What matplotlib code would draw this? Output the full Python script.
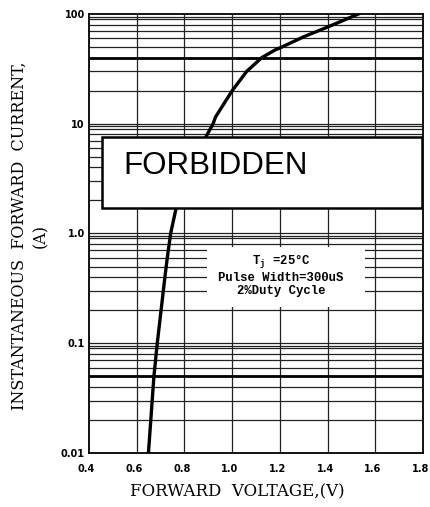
import matplotlib
matplotlib.use('Agg')
import matplotlib.pyplot as plt
import matplotlib.transforms as mtransforms
from matplotlib.patches import Rectangle

# 読み取った値
voltage = [0.649, 0.672, 0.686, 0.702, 0.718, 0.728, 0.742, 0.765, 0.83, 0.89,
           0.92, 0.93, 1.0, 1.061, 1.124, 1.18, 1.2, 1.3, 1.4, 1.543]
current = [0.01, 0.05, 0.1, 0.2, 0.4, 0.6, 1.0, 1.7, 4.0, 7.6,
           10, 11.5, 20, 30, 40, 47, 49, 62, 76, 103]

x_ticks = [0.4, 0.6, 0.8, 1.0, 1.2, 1.4, 1.6, 1.8]
x_tick_labels = ['0.4', '0.6', '0.8', '1.0', '1.2', '1.4', '1.6', '1.8']
y_ticks = [0.01, 0.1, 1, 10, 100]
y_tick_labels = ['0.01', '0.1', '1.0', '10', '100']
decades = [0.01, 0.1, 1, 10]
grid_mult = [2, 3, 4, 5, 6, 7, 8, 9, 9.45]
thick_levels = [0.05, 40]

note_lines = ['T$_\\mathregular{j}$ =25°C', 'Pulse Width=300uS', '2%Duty Cycle']

fig = plt.figure(figsize=(4.3, 5.07), dpi=100)
ax = fig.add_axes([0.207, 0.1065, 0.777, 0.866])

ax.set_yscale('log')
ax.set_xlim(0.4, 1.8)
ax.set_ylim(0.01, 100)

# グリッド
for x in x_ticks[1:-1]:
    ax.axvline(x, color='#222222', lw=0.9, zorder=1)
for d in decades:
    for m in grid_mult:
        ax.axhline(d * m, color='#222222', lw=0.9, zorder=1)
    ax.axhline(d, color='#222222', lw=0.9, zorder=1)
for y in thick_levels:
    ax.axhline(y, color='black', lw=2.0, zorder=1)

# 注記用の白い領域
ax.add_patch(Rectangle((0.353, 0.3326), 0.473, 0.1364, transform=ax.transAxes,
                       facecolor='white', edgecolor='none', zorder=2))
ax.text(0.575, 0.405, '\n'.join(note_lines), transform=ax.transAxes, ha='center', va='center',
        multialignment='center', family='Liberation Mono', fontweight='bold', fontsize=8.8,
        linespacing=1.12, zorder=3)

ax.plot(voltage, current, color='black', lw=2.4, zorder=4)

ax.add_patch(Rectangle((0.039, 0.558), 0.958, 0.162, transform=ax.transAxes,
                       facecolor='white', edgecolor='black', lw=1.8, zorder=5))
ax.text(0.102, 0.654, 'FORBIDDEN', transform=ax.transAxes, ha='left', va='center',
        family='Liberation Sans', fontsize=22.5, zorder=6)

ax.set_xticks(x_ticks)
ax.set_xticklabels(x_tick_labels)
ax.set_yticks(y_ticks)
ax.set_yticklabels(y_tick_labels)
ax.minorticks_off()
ax.tick_params(length=0)
ax.tick_params(axis='x', pad=8)
ax.tick_params(axis='y', pad=3)
shift = mtransforms.ScaledTranslation(-2.5 / 100, 0, fig.dpi_scale_trans)
for lab in ax.get_xticklabels():
    lab.set_transform(lab.get_transform() + shift)
for lab in ax.get_xticklabels() + ax.get_yticklabels():
    lab.set_family('DejaVu Sans')
    lab.set_fontweight('bold')
    lab.set_fontsize(7)

for s in ax.spines.values():
    s.set_linewidth(1.3)

ax.set_ylabel('INSTANTANEOUS  FORWARD  CURRENT,\n(A)', family='DejaVu Serif',
              fontsize=11.5, linespacing=1.35)
ax.yaxis.set_label_coords(-0.12, 0.495)
ax.set_xlabel('FORWARD  VOLTAGE,(V)', family='DejaVu Serif', fontsize=12)
ax.xaxis.set_label_coords(0.445, -0.07)

fig.savefig('out.png', dpi=100)
